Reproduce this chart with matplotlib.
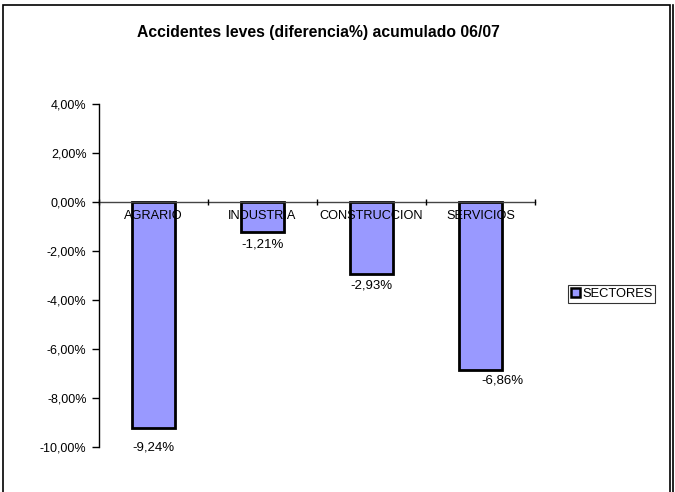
import matplotlib
matplotlib.use("Agg")
import matplotlib.pyplot as plt
from matplotlib.patches import Rectangle, Patch
from matplotlib.lines import Line2D
from matplotlib.ticker import FuncFormatter, FixedLocator

plt.rcParams['font.family'] = ['Liberation Sans', 'DejaVu Sans']

categories = ["AGRARIO", "INDUSTRIA", "CONSTRUCCION", "SERVICIOS"]
values = [-9.24, -1.21, -2.93, -6.86]
series_name = "SECTORES"
title = "Accidentes leves (diferencia%) acumulado 06/07"
yticks = [-10, -8, -6, -4, -2, 0, 2, 4]

# label nudges (points), as placed in the original chart
label_dx = [0, 0, 0, 15.5]
label_dy = [-9.2, -4.7, -4.0, -3.2]

W, H = 675, 492
fig = plt.figure(figsize=(W / 100, H / 100), dpi=100)

# outer chart frame
fig.patches.append(Rectangle((3 / W, -0.02), (670 - 3) / W, 1.02 - 5 / H,
                             transform=fig.transFigure, fill=False,
                             edgecolor='black', linewidth=1.2))
fig.lines.append(Line2D([673 / W, 673 / W], [0, 1 - 5 / H],
                        transform=fig.transFigure, color='black', linewidth=1.2))

left, right = 99 / W, 535 / W
top, bottom = 1 - 104 / H, 1 - 447 / H
ax = fig.add_axes([left, bottom, right - left, top - bottom])

x = list(range(len(categories)))
bars = ax.bar(x, values, width=0.4, color='#9999FF', edgecolor='black',
              linewidth=2, zorder=1, label=series_name)
ax.set_axisbelow(False)

ax.set_xlim(-0.5, len(categories) - 0.5)
ax.set_ylim(-10, 4)

for s in ['top', 'right']:
    ax.spines[s].set_visible(False)
ax.spines['left'].set_linewidth(1)
ax.spines['bottom'].set_position(('data', 0))
ax.spines['bottom'].set_linewidth(1)
ax.spines['bottom'].set_color('#444444')

ax.set_yticks(yticks)
ax.yaxis.set_major_formatter(FuncFormatter(lambda v, p: f"{v:.2f}%".replace('.', ',')))
ax.tick_params(axis='y', direction='out', length=5, width=1, labelsize=9, pad=4)

bounds = [i + 0.5 for i in range(-1, len(categories))]
ax.xaxis.set_major_locator(FixedLocator(bounds))
ax.xaxis.set_minor_locator(FixedLocator(x))
ax.set_xticklabels([''] * len(bounds))
ax.set_xticklabels(categories, minor=True)
ax.tick_params(axis='x', which='major', direction='inout', length=5, width=1)
ax.tick_params(axis='x', which='minor', length=0, labelsize=9.2, pad=6)

for xi, v, dx, dy in zip(x, values, label_dx, label_dy):
    ax.annotate(f"{v:.2f}%".replace('.', ','), (xi, v), xytext=(dx, dy),
                textcoords='offset points', ha='center', va='top', fontsize=9.5)

fig.text(318 / W, 1 - 32 / H, title, ha='center', va='center',
         fontsize=11.3, fontweight='bold')

handle = Patch(facecolor='#9999FF', edgecolor='black', linewidth=1.8)
leg = fig.legend([handle], [series_name], loc='center left',
                 bbox_to_anchor=(568 / W, 1 - 294 / H), fontsize=9.3,
                 frameon=True, fancybox=False, edgecolor='black',
                 handlelength=0.75, handleheight=0.75, handletextpad=0.15,
                 borderpad=0.2, borderaxespad=0)
leg.get_frame().set_linewidth(0.8)

fig.savefig("out.png", dpi=100)
